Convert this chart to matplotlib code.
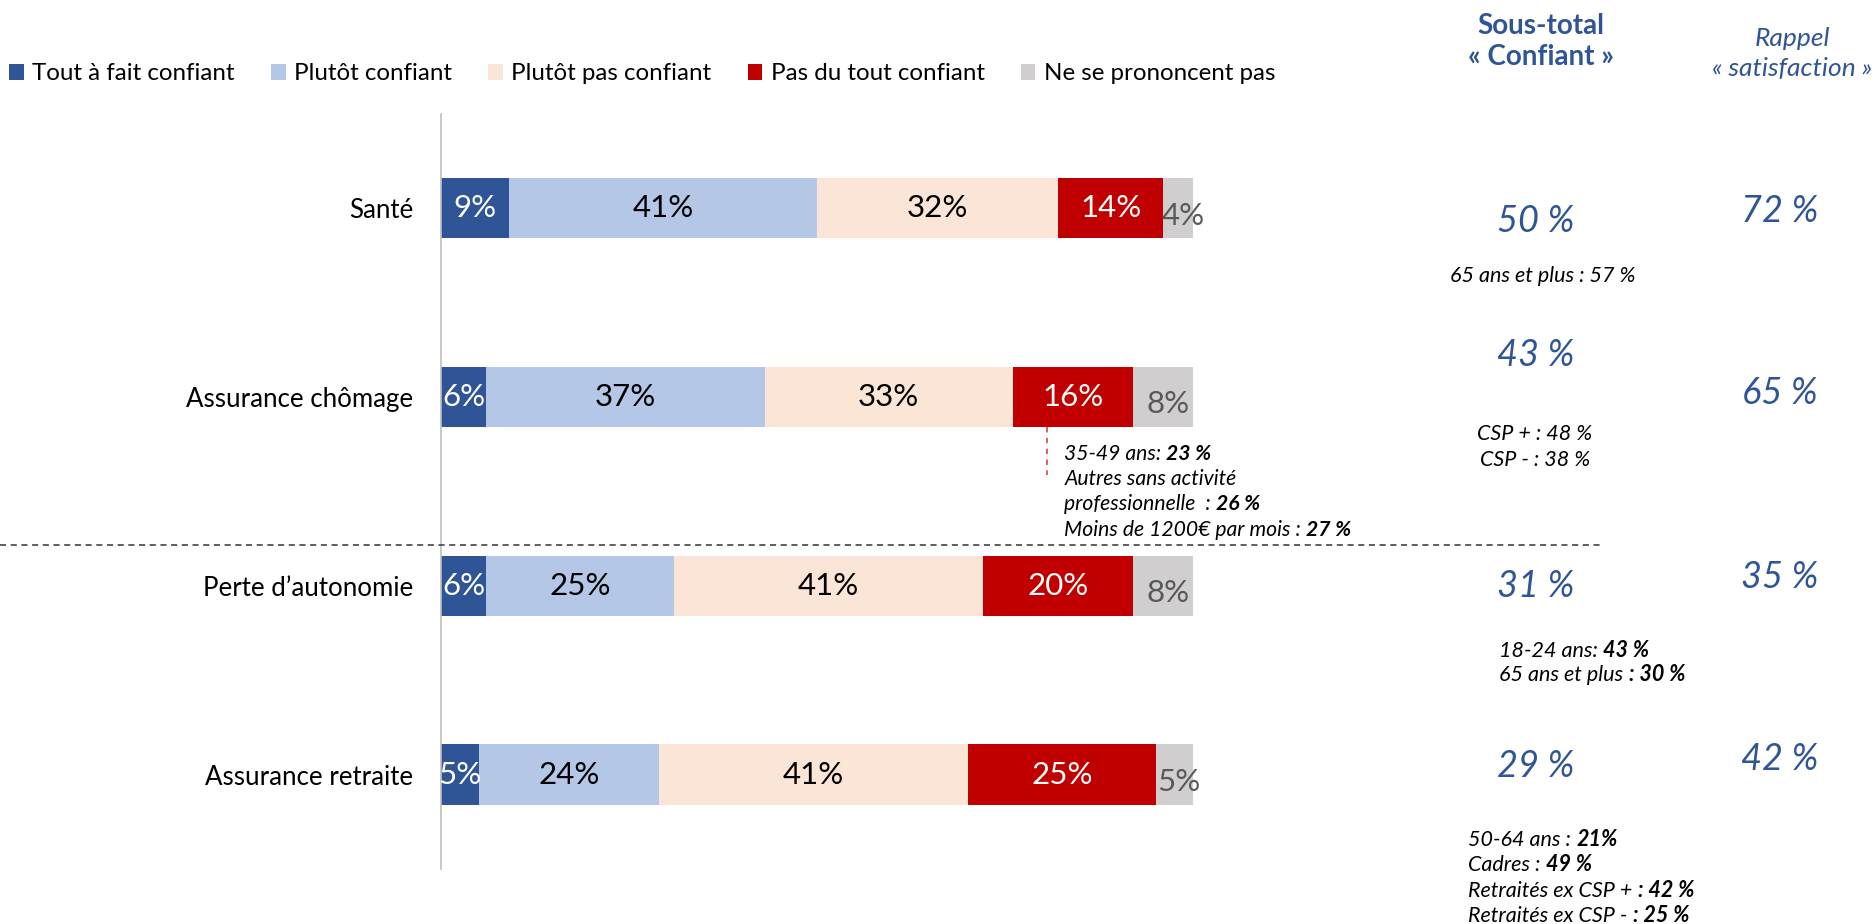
import matplotlib
matplotlib.use('Agg')
import matplotlib.pyplot as plt
from matplotlib.lines import Line2D

plt.rcParams['font.family'] = ['Lato', 'DejaVu Sans']

# données
categories = ['Santé', 'Assurance chômage', 'Perte d’autonomie', 'Assurance retraite']
series_names = ['Tout à fait confiant', 'Plutôt confiant', 'Plutôt pas confiant',
                'Pas du tout confiant', 'Ne se prononcent pas']
tout_a_fait = [9, 6, 6, 5]
plutot = [41, 37, 25, 24]
plutot_pas = [32, 33, 41, 41]
pas_du_tout = [14, 16, 20, 25]
nspp = [4, 8, 8, 5]
sous_total = [50, 43, 31, 29]
rappel = [72, 65, 35, 42]

colors = ['#2F5597', '#B4C7E7', '#FBE5D6', '#C00000', '#D0CECE']
label_colors = ['white', 'black', 'black', 'white', '#595959']
blue = '#2F5597'

fig = plt.figure(figsize=(18.75, 9.24), dpi=100)
ax = fig.add_axes([0.2353, 0.0595, 0.4012, 0.8176])

series = [tout_a_fait, plutot, plutot_pas, pas_du_tout, nspp]
ypos = list(range(len(categories)))
left = [0] * len(categories)
handles = []
for vals, name, col, lcol in zip(series, series_names, colors, label_colors):
    bars = ax.barh(ypos, vals, left=left, height=0.32, color=col, label=name)
    handles.append(bars)
    for y, v, l in zip(ypos, vals, left):
        # les "ne se prononcent pas" sont un peu décalés comme dans l'original
        dy = 0.04 if col == '#D0CECE' else 0
        dx = 0.6 if col == '#D0CECE' else 0
        ax.text(l + v / 2 + dx, y + dy, f'{v}%', ha='center', va='center',
                color=lcol, fontsize=22.5)
    left = [a + b for a, b in zip(left, vals)]

ax.set_xlim(0, 100)
ax.set_ylim(3.5, -0.5)
ax.set_xticks([])
ax.set_yticks(ypos)
ax.set_yticklabels(categories, fontsize=18.6)
ax.tick_params(axis='y', length=0, pad=20)
for s in ['top', 'right', 'bottom']:
    ax.spines[s].set_visible(False)
ax.spines['left'].set_color('#BFBFBF')
ax.spines['left'].set_linewidth(1.2)

fig.legend(handles, series_names, loc='center left', bbox_to_anchor=(0.005, 0.92),
           ncol=5, frameon=False, fontsize=17.4, handlelength=0.6, handleheight=0.6,
           handletextpad=0.35, columnspacing=1.5, borderaxespad=0, borderpad=0)

# en-têtes à droite
fig.text(0.822, 0.955, 'Sous-total\n« Confiant »', ha='center', va='center',
         fontsize=20, fontweight='bold', color=blue, linespacing=1.25)
fig.text(0.9560, 0.942, 'Rappel\n« satisfaction »', ha='center', va='center',
         fontsize=19, style='italic', color=blue, linespacing=1.35)

st_y = [0.7607, 0.6158, 0.3648, 0.1708]
rp_y = [0.771, 0.5744, 0.3752, 0.1785]
for v, y in zip(sous_total, st_y):
    fig.text(0.8189, y, f'{v} %', ha='center', va='center', fontsize=26,
             style='italic', color=blue)
for v, y in zip(rappel, rp_y):
    fig.text(0.949, y, f'{v} %', ha='center', va='center', fontsize=26,
             style='italic', color=blue)


def rich(x, y, parts, size=15):
    # une ligne en italique, certains morceaux en gras
    txt, bold = parts[0]
    prev = fig.text(x, y, txt, ha='left', va='center', fontsize=size, style='italic',
                    fontweight='bold' if bold else 'normal')
    for txt, bold in parts[1:]:
        prev = ax.annotate(txt, xy=(1, 0), xycoords=prev, va='bottom', ha='left',
                           fontsize=size, style='italic', annotation_clip=False,
                           fontweight='bold' if bold else 'normal')


fig.text(0.8227, 0.7012, '65 ans et plus : 57 %', ha='center', va='center',
         fontsize=15.5, style='italic')
fig.text(0.8185, 0.5304, 'CSP + : 48 %', ha='center', va='center',
         fontsize=15.5, style='italic')
fig.text(0.8185, 0.502, 'CSP - : 38 %', ha='center', va='center',
         fontsize=15.5, style='italic')

rich(0.7997, 0.295, [('18-24 ans: ', False), ('43 %', True)], 15.5)
rich(0.7997, 0.269, [('65 ans et plus ', False), (': 30 %', True)], 15.5)

retraite_notes = [[('50-64 ans : ', False), ('21%', True)],
                  [('Cadres : ', False), ('49 %', True)],
                  [('Retraités ex CSP + ', False), (': 42 %', True)],
                  [('Retraités ex CSP - ', False), (': 25 %', True)]]
for parts, y in zip(retraite_notes, [0.0906, 0.0634, 0.0362, 0.0091]):
    rich(0.7832, y, parts, 15.5)

chomage_notes = [[('35-49 ans: ', False), ('23 %', True)],
                 [('Autres sans activité', False)],
                 [('professionnelle  : ', False), ('26 %', True)],
                 [('Moins de 1200€ par mois : ', False), ('27 %', True)]]
for parts, y in zip(chomage_notes, [0.5084, 0.4812, 0.4541, 0.4269]):
    rich(0.5676, y, parts, 15.2)

# traits pointillés
fig.add_artist(Line2D([0.5584, 0.5584], [0.5379, 0.4859], color='#E05050',
                      linestyle=(0, (3, 3)), linewidth=1.3))
fig.add_artist(Line2D([0, 0.8545], [0.410, 0.410], color='#333333',
                      linestyle=(0, (4, 3)), linewidth=1.1))

fig.savefig('out.png', dpi=100)
